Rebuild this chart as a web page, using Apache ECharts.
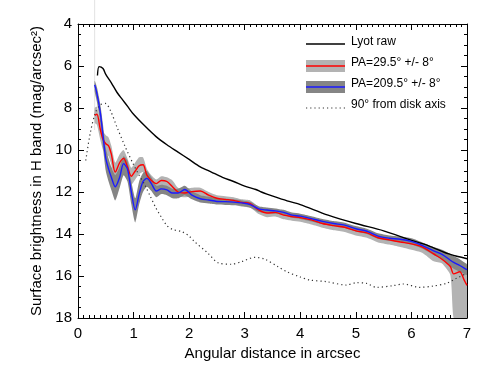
<!DOCTYPE html>
<html lang="en">
<head>
    <meta charset="UTF-8">
    <title>Surface brightness profile</title>
    <script src="https://cdn.jsdelivr.net/npm/echarts@6/dist/echarts.min.js"></script>
    <style>
        html, body { margin: 0; padding: 0; background: #fff; }
        #main { width: 491px; height: 368px; }
    </style>
</head>
<body>
    <div id="main"></div>
    <script>
        // shared radius grid for the two PA profiles and their bands
        var paX = [0.30, 0.34, 0.40, 0.45, 0.50, 0.55, 0.60, 0.67, 0.75, 0.82, 0.89, 0.96, 1.03, 1.10, 1.17, 1.24,
            1.32, 1.41, 1.50, 1.60, 1.70, 1.80, 1.92, 2.05, 2.20, 2.35, 2.50, 2.65, 2.80, 2.95, 3.10, 3.25, 3.40,
            3.55, 3.70, 3.85, 4.00, 4.20, 4.40, 4.60, 4.80, 5.00, 5.20, 5.40, 5.60, 5.80, 6.00, 6.20, 6.40, 6.55,
            6.70, 6.76, 6.87, 6.95, 7.00];

        // PA=29.5 (red) and its light band
        var redY = [8.35, 8.3, 9.0, 9.5, 9.7, 9.8, 10.2, 11.05, 10.6, 10.4, 10.8, 11.25, 11.0, 10.75, 10.7, 11.2,
            11.45, 11.6, 11.45, 11.5, 11.75, 12.0, 12.05, 11.98, 11.95, 12.15, 12.3, 12.35, 12.4, 12.5, 12.55, 12.85, 13.0,
            12.97, 13.1, 13.17, 13.22, 13.33, 13.5, 13.6, 13.68, 13.85, 13.95, 14.18, 14.28, 14.38, 14.47, 14.62, 14.95, 15.2,
            15.55, 15.9, 15.8, 16.2, 16.45];
        var redTop = [8.0, 7.95, 8.6, 9.1, 9.3, 9.4, 9.8, 10.6, 10.2, 10.0, 10.4, 10.85, 10.6, 10.35, 10.35, 10.9,
            11.2, 11.4, 11.25, 11.3, 11.45, 11.8, 11.85, 11.8, 11.8, 12.0, 12.15, 12.2, 12.25, 12.35, 12.4, 12.7, 12.85,
            12.82, 12.95, 13.02, 13.07, 13.18, 13.35, 13.45, 13.53, 13.7, 13.8, 14.02, 14.12, 14.2, 14.3, 14.45, 14.75, 14.95,
            15.2, 15.35, 15.3, 15.5, 15.7];
        var redBottom = [8.7, 8.8, 9.5, 10.0, 10.2, 10.3, 10.7, 11.5, 11.0, 10.8, 11.2, 11.65, 11.4, 11.15, 11.05, 11.5,
            11.7, 11.85, 11.7, 11.75, 11.95, 12.2, 12.25, 12.2, 12.2, 12.4, 12.5, 12.55, 12.6, 12.7, 12.75, 13.05, 13.2,
            13.17, 13.3, 13.37, 13.42, 13.55, 13.7, 13.82, 13.9, 14.07, 14.18, 14.4, 14.5, 14.62, 14.75, 14.9, 15.3, 15.4,
            15.95, 18, 18, 18, 18];

        // PA=209.5 (blue) and its dark band
        var blueY = [6.9, 7.3, 8.2, 9.3, 10.4, 10.9, 11.3, 11.75, 11.3, 10.65, 10.9, 12.0, 12.85, 12.1, 11.5, 11.35,
            11.6, 11.95, 11.85, 11.9, 12.05, 12.05, 11.88, 12.15, 12.32, 12.38, 12.45, 12.46, 12.48, 12.52, 12.6, 12.8, 12.86,
            12.9, 12.97, 13.1, 13.15, 13.27, 13.4, 13.5, 13.58, 13.75, 13.87, 14.1, 14.2, 14.25, 14.35, 14.55, 14.8, 14.97,
            15.25, 15.35, 15.5, 15.62, 15.7];
        var blueTop = [6.7, 7.0, 7.8, 8.8, 9.9, 10.4, 10.8, 11.2, 10.8, 10.3, 10.5, 11.5, 12.3, 11.5, 11.1, 11.0,
            11.3, 11.7, 11.65, 11.7, 11.85, 11.85, 11.7, 11.97, 12.15, 12.22, 12.3, 12.32, 12.35, 12.4, 12.47, 12.68, 12.74,
            12.78, 12.85, 12.98, 13.03, 13.15, 13.28, 13.38, 13.46, 13.62, 13.75, 13.97, 14.07, 14.12, 14.2, 14.4, 14.62, 14.75,
            14.95, 15.05, 15.2, 15.35, 15.45];
        var blueBottom = [7.2, 7.7, 8.7, 9.9, 11.0, 11.5, 11.9, 12.4, 11.8, 11.2, 11.5, 12.6, 13.45, 12.6, 12.0, 11.75,
            11.95, 12.25, 12.1, 12.15, 12.3, 12.3, 12.15, 12.35, 12.5, 12.55, 12.6, 12.62, 12.63, 12.67, 12.75, 12.95, 13.0,
            13.04, 13.1, 13.23, 13.28, 13.4, 13.53, 13.63, 13.72, 13.88, 14.0, 14.23, 14.33, 14.38, 14.5, 14.7, 15.0, 15.2,
            15.55, 15.65, 15.8, 15.9, 15.95];

        // Lyot raw (black)
        var lyotX = [0.35, 0.38, 0.45, 0.50, 0.60, 0.70, 0.80, 0.90, 1.0, 1.2, 1.4, 1.6, 1.8, 2.0, 2.2, 2.4, 2.6, 2.8,
            3.0, 3.2, 3.3, 3.4, 3.6, 3.8, 4.0, 4.5, 5.0, 5.5, 6.0, 6.3, 6.6, 6.7, 6.8, 7.0];
        var lyotY = [6.45, 6.03, 6.12, 6.4, 6.8, 7.25, 7.6, 7.95, 8.3, 8.85, 9.35, 9.75, 10.1, 10.45, 10.8, 11.05, 11.3, 11.5,
            11.72, 11.88, 12.0, 12.1, 12.28, 12.45, 12.6, 13.1, 13.5, 13.85, 14.3, 14.55, 14.88, 14.97, 15.05, 15.18];

        // 90 deg from disk axis (dotted)
        var perpX = [0.14, 0.22, 0.31, 0.40, 0.49, 0.58, 0.70, 0.85, 1.0, 1.1, 1.2, 1.3, 1.4, 1.5, 1.6, 1.7, 1.87, 2.0,
            2.1, 2.34, 2.52, 2.76, 2.94, 3.18, 3.36, 3.6, 3.75, 4.0, 4.17, 4.47, 4.83, 5.01, 5.19, 5.37, 5.67, 5.85, 6.15,
            6.39, 6.63, 6.81, 7.0];
        var perpY = [10.5, 9.2, 8.25, 7.85, 7.78, 8.1, 8.9, 9.85, 10.7, 11.2, 11.65, 12.2, 12.75, 13.2, 13.6, 13.78, 13.89, 14.1,
            14.37, 14.92, 15.37, 15.44, 15.32, 15.11, 15.2, 15.56, 15.79, 16.05, 16.19, 16.27, 16.43, 16.32, 16.35, 16.54, 16.46,
            16.38, 16.54, 16.48, 16.35, 16.11, 15.87];

        var fontName = 'Liberation Sans';

        function pairs(xs, ys) {
            var out = [];
            for (var i = 0; i < xs.length; i++) {
                out.push([xs[i], ys[i]]);
            }
            return out;
        }

        // band = one polygon through the top edge and back along the bottom edge
        function bandSeries(name, top, bottom, color) {
            var rows = [];
            for (var i = 0; i < paX.length; i++) {
                rows.push([paX[i], top[i], bottom[i]]);
            }
            return {
                name: name,
                type: 'custom',
                silent: true,
                clip: true,
                encode: { x: 0, y: [1, 2] },
                data: rows,
                renderItem: function (params, api) {
                    if (params.dataIndex !== 0) return null;
                    var pts = [];
                    for (var i = 0; i < rows.length; i++) pts.push(api.coord([rows[i][0], rows[i][1]]));
                    for (var j = rows.length - 1; j >= 0; j--) pts.push(api.coord([rows[j][0], rows[j][2]]));
                    return {
                        type: 'polygon',
                        shape: { points: pts, smooth: 0.2 },
                        style: { fill: color, stroke: null }
                    };
                }
            };
        }

        var tickCommon = {
            axisLine: { show: true, onZero: false, lineStyle: { color: '#000', width: 1 } },
            axisTick: { show: true, inside: true, length: 6, lineStyle: { color: '#000' } },
            splitLine: { show: false }
        };

        var myChart = echarts.init(document.getElementById('main'));

        var series = [
            bandSeries('redband', redTop, redBottom, '#b3b3b3'),
            bandSeries('blueband', blueTop, blueBottom, '#858585'),
            {
                name: '90° from disk axis',
                type: 'line',
                data: pairs(perpX, perpY),
                symbol: 'none',
                smooth: 0.3,
                lineStyle: { color: '#333', width: 1.2, type: [1.2, 3] }
            },
            {
                name: 'Lyot raw',
                type: 'line',
                data: pairs(lyotX, lyotY),
                symbol: 'none',
                smooth: 0.3,
                lineStyle: { color: '#000', width: 1.4 }
            },
            {
                name: 'PA=29.5° +/- 8°',
                type: 'line',
                data: pairs(paX, redY),
                symbol: 'none',
                smooth: 0.3,
                lineStyle: { color: '#ff0000', width: 1.4 }
            },
            {
                name: 'PA=209.5° +/- 8°',
                type: 'line',
                data: pairs(paX, blueY),
                symbol: 'none',
                smooth: 0.3,
                lineStyle: { color: '#1a1aff', width: 1.4 }
            }
        ];

        var option = {
            animation: false,
            backgroundColor: '#fff',
            textStyle: { fontFamily: fontName },
            grid: { left: 78, right: 24, top: 24, bottom: 50, outerBoundsMode: 'none' },
            xAxis: [
                Object.assign({}, tickCommon, {
                    type: 'value',
                    min: 0, max: 7, interval: 1,
                    position: 'bottom',
                    name: 'Angular distance in arcsec',
                    nameLocation: 'middle',
                    nameGap: 26,
                    nameTextStyle: { fontSize: 15, color: '#000', fontFamily: fontName },
                    axisLabel: { fontSize: 15, color: '#000', margin: 8, fontFamily: fontName },
                    minorTick: { show: true, splitNumber: 10, length: 3, lineStyle: { color: '#000' } }
                }),
                Object.assign({}, tickCommon, {
                    type: 'value',
                    min: 0, max: 7, interval: 1,
                    position: 'top',
                    axisLabel: { show: false },
                    minorTick: { show: true, splitNumber: 10, length: 3, lineStyle: { color: '#000' } }
                })
            ],
            yAxis: [
                Object.assign({}, tickCommon, {
                    type: 'value',
                    inverse: true,
                    min: 4, max: 18, interval: 2,
                    position: 'left',
                    name: 'Surface brightness in H band (mag/arcsec²)',
                    nameLocation: 'middle',
                    nameGap: 30,
                    nameRotate: 90,
                    nameTextStyle: { fontSize: 15, color: '#000', fontFamily: fontName },
                    axisLabel: { fontSize: 15, color: '#000', margin: 6, fontFamily: fontName },
                    minorTick: { show: true, splitNumber: 4, length: 3, lineStyle: { color: '#000' } }
                }),
                Object.assign({}, tickCommon, {
                    type: 'value',
                    inverse: true,
                    min: 4, max: 18, interval: 2,
                    position: 'right',
                    axisLabel: { show: false },
                    minorTick: { show: true, splitNumber: 4, length: 3, lineStyle: { color: '#000' } }
                })
            ],
            series: series
        };
        myChart.setOption(option);

        // legend drawn by hand: line / band swatches plus text
        var lx0 = 306, lx1 = 345, tx = 351;
        function label(text, y) {
            return {
                type: 'text', x: tx, y: y,
                style: { text: text, fill: '#000', font: '12px ' + fontName, verticalAlign: 'middle' }
            };
        }
        // faint vertical guide at the inner edge of the profiles
        var guideX = myChart.convertToPixel({ xAxisIndex: 0 }, 0.3);
        myChart.setOption({
            graphic: [
                { type: 'line', silent: true, z: -1, shape: { x1: guideX, y1: 0, x2: guideX, y2: 130 },
                  style: { stroke: '#e2e2e2', lineWidth: 1 } },
                { type: 'line', shape: { x1: lx0, y1: 44, x2: lx1, y2: 44 }, style: { stroke: '#000', lineWidth: 1.4 } },
                label('Lyot raw', 42),
                { type: 'rect', shape: { x: lx0, y: 60, width: lx1 - lx0, height: 12 }, style: { fill: '#b3b3b3' } },
                { type: 'line', shape: { x1: lx0, y1: 66, x2: lx1, y2: 66 }, style: { stroke: '#ff0000', lineWidth: 1.4 } },
                label('PA=29.5° +/- 8°', 63),
                { type: 'rect', shape: { x: lx0, y: 81, width: lx1 - lx0, height: 12 }, style: { fill: '#858585' } },
                { type: 'line', shape: { x1: lx0, y1: 87, x2: lx1, y2: 87 }, style: { stroke: '#1a1aff', lineWidth: 1.4 } },
                label('PA=209.5° +/- 8°', 84),
                { type: 'line', shape: { x1: lx0, y1: 108, x2: lx1, y2: 108 },
                  style: { stroke: '#333', lineWidth: 1.2, lineDash: [1.2, 3] } },
                label('90° from disk axis', 105)
            ]
        });
    </script>
</body>
</html>
